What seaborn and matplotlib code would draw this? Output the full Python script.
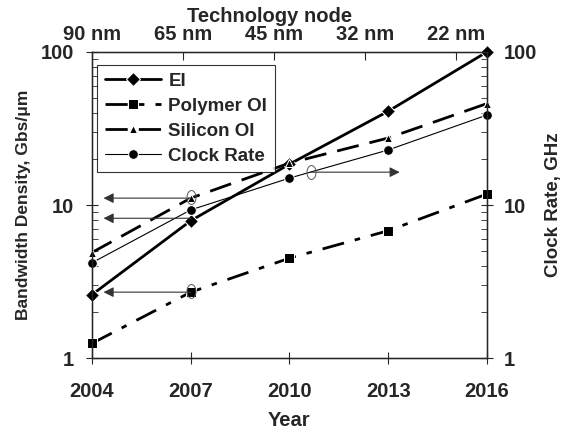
import numpy as np
import pandas as pd
import matplotlib
matplotlib.use("Agg")
import matplotlib.pyplot as plt
import seaborn as sns

# data
years = [2004, 2007, 2010, 2013, 2016]
nodes = ["90 nm", "65 nm", "45 nm", "32 nm", "22 nm"]
ei = [2.6, 7.9, 18.5, 41, 100]
polymer_oi = [1.25, 2.7, 4.5, 6.8, 11.8]
silicon_oi = [4.9, 11.1, 18.8, 27.4, 46]
clock_rate = [4.2, 9.3, 15.0, 22.9, 38.7]

sns.set_style("ticks")
plt.rcParams["font.family"] = ["Liberation Sans", "DejaVu Sans"]
plt.rcParams["font.weight"] = "bold"
plt.rcParams["axes.labelweight"] = "bold"

Data = pd.DataFrame({"Year": years, "EI": ei, "Polymer OI": polymer_oi,
                     "Silicon OI": silicon_oi, "Clock Rate": clock_rate})

fig, ax = plt.subplots(figsize=(5.61, 4.29), dpi=100)
fig.subplots_adjust(left=0.164, right=0.868, bottom=0.165, top=0.879)

sns.lineplot(data=Data, x="Year", y="EI", ax=ax, color="black", lw=2,
             marker="D", markersize=7, label="EI", clip_on=False)
sns.lineplot(data=Data, x="Year", y="Polymer OI", ax=ax, color="black", lw=2,
             marker="s", markersize=7, label="Polymer OI", clip_on=False)
ax.lines[-1].set_dashes([8, 4, 2, 4])
sns.lineplot(data=Data, x="Year", y="Silicon OI", ax=ax, color="black", lw=2,
             marker="^", markersize=6, label="Silicon OI", clip_on=False)
ax.lines[-1].set_dashes([8, 4])
sns.lineplot(data=Data, x="Year", y="Clock Rate", ax=ax, color="black", lw=0.8,
             marker="o", markersize=7, label="Clock Rate", clip_on=False)

# arrows pointing to the axis each curve belongs to
t = np.linspace(0, 2 * np.pi, 40)
oval = list(zip(0.65 * np.cos(t), np.sin(t)))
arrow = dict(arrowstyle="-|>", color="#333333", lw=0.8, mutation_scale=15,
             shrinkA=0, shrinkB=0)
for yv in [11.1, 8.2, 2.7]:
    ax.annotate("", xy=(2004.35, yv), xytext=(2007, yv), arrowprops=arrow)
for xv, yv in [(2007, 11.3), (2007, 2.75), (2010.65, 16.4)]:
    ax.plot(xv, yv, marker=oval, mfc="none", mec="#555555",
            markersize=10, mew=0.7, zorder=5)
ax.annotate("", xy=(2013.35, 16.4), xytext=(2010.65, 16.4), arrowprops=arrow)

ax.set_yscale("log")
ax.set_ylim(1, 100)
ax.set_xlim(2004, 2016)
ax.set_xticks(years)
ax.set_yticks([1, 10, 100])
ax.set_yticklabels(["1", "10", "100"])
ax.tick_params(axis="both", which="major", direction="inout", length=8,
               labelsize=14.5, width=0.8)
ax.tick_params(axis="y", which="minor", direction="in", length=4, width=0.6)
ax.tick_params(axis="x", pad=13)
ax.tick_params(axis="y", which="major", pad=9)
ax.set_xlabel("Year", fontsize=14.5, labelpad=7)
ax.set_ylabel("Bandwidth Density, Gbs/\u03bcm", fontsize=12.5, labelpad=7)
for s in ax.spines.values():
    s.set_linewidth(1)

leg = ax.legend(loc="upper left", bbox_to_anchor=(0.013, 0.957),
                frameon=True, fancybox=False,
                prop={"weight": "bold", "size": 13.5}, handlelength=3.0,
                borderaxespad=0, labelspacing=0.42, handletextpad=0.4,
                borderpad=0.4)
leg.get_frame().set_edgecolor("black")
leg.get_frame().set_linewidth(0.8)

# right axis: clock rate
ax2 = ax.twinx()
ax2.set_yscale("log")
ax2.set_ylim(1, 100)
ax2.set_yticks([1, 10, 100])
ax2.set_yticklabels(["1", "10", "100"])
ax2.tick_params(axis="y", which="major", direction="inout", length=8,
                labelsize=14.5, width=0.8, pad=8)
ax2.tick_params(axis="y", which="minor", direction="in", length=4, width=0.6)
ax2.set_ylabel("Clock Rate, GHz", fontsize=13.5, labelpad=6)

# top axis: technology node (its own, slightly tighter spacing)
ax3 = ax.twiny()
ax3.set_xlim(0, 4.34)
ax3.set_xticks(range(len(nodes)))
ax3.set_xticklabels(nodes)
ax3.tick_params(axis="x", direction="in", length=6, labelsize=14.5, pad=6)
ax3.set_xlabel("Technology node", fontsize=14.5, labelpad=2, x=0.45)
ax3.spines["top"].set_color("#555555")

ax.set_zorder(ax3.get_zorder() + 1)
ax.patch.set_visible(False)

fig.savefig("out.png", dpi=100)
